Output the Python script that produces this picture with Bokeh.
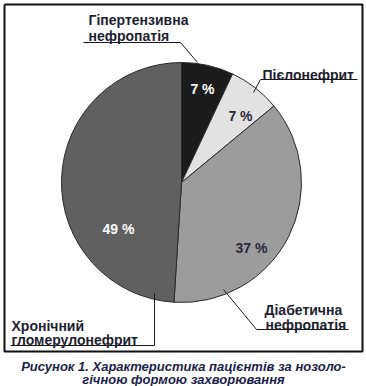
import numpy as np
from bokeh.plotting import figure
from bokeh.models import ColumnDataSource
from bokeh.core.properties import value
from bokeh.embed import file_html
from bokeh.resources import INLINE

# ---- data ----
categories = ["Гіпертензивна нефропатія", "Пієлонефрит", "Діабетична нефропатія", "Хронічний гломерулонефрит"]
values = [7, 7, 37, 49]
pct_labels = ["7 %", "7 %", "37 %", "49 %"]
slice_colors = ["#1c1c1c", "#e2e2e2", "#9c9c9c", "#606060"]
pct_colors = ["white", "#2a2a3a", "#2a2a3a", "white"]
caption_lines = ["Рисунок 1. Характеристика пацієнтів за нозоло-", "гічною формою захворювання"]

W, H = 366, 386
def Y(y):
    return H - y

p = figure(width=W, height=H, x_range=(0, W), y_range=(0, H),
           x_axis_type=None, y_axis_type=None,
           toolbar_location=None, output_backend="svg", min_border=0)
p.grid.visible = False
p.outline_line_color = None
p.background_fill_color = "white"
p.border_fill_color = "white"

# pie
vals = np.array(values, dtype=float)
frac = vals / vals.sum()
cum = np.concatenate([[0], np.cumsum(frac)])
start = np.pi / 2 - 2 * np.pi * cum[:-1]
end = np.pi / 2 - 2 * np.pi * cum[1:]
cx, cy, r = 181, Y(182), 120
src = ColumnDataSource(dict(start=start, end=end, color=slice_colors, cat=categories))
p.wedge(x=cx, y=cy, radius=r, start_angle="start", end_angle="end", direction="clock",
        fill_color="color", line_color="#2a2a2a", line_width=1, source=src)

# percent labels
pct_pos = [(202, 88), (240, 115), (251, 247), (118, 228)]
p.text(x=[q[0] for q in pct_pos], y=[Y(q[1]) for q in pct_pos], text=pct_labels,
       text_color=pct_colors, text_font=value("Liberation Sans"), text_font_style="bold",
       text_font_size="14px", text_align="center", text_baseline="middle")

# category labels
label_color = "#1e1e32"
lab_lines = [
    ("Гіпертензивна", 88, 19), ("нефропатія", 88, 35),
    ("Пієлонефрит", 262, 74),
    ("Діабетична", 264, 309), ("нефропатія", 265, 324),
    ("Хронічний", 11, 325), ("гломерулонефрит", 11, 339),
]
p.text(x=[l[1] for l in lab_lines], y=[Y(l[2]) for l in lab_lines], text=[l[0] for l in lab_lines],
       text_color=label_color, text_font=value("Liberation Sans"), text_font_style="bold",
       text_font_size="14px", text_align="left", text_baseline="alphabetic")

# leader lines
leaders = [
    [(83, 42), (180, 42), (197, 62)],
    [(357, 79), (260, 79), (253, 92)],
    [(348, 329), (256, 329), (223, 289)],
    [(10, 345), (154, 345), (154, 293)],
]
p.multi_line(xs=[[pt[0] for pt in L] for L in leaders], ys=[[Y(pt[1]) for pt in L] for L in leaders],
             line_color="#1a1a1a", line_width=1)

# frame box
bx = [4, 362, 362, 4, 4]
by = [4, 4, 351, 351, 4]
p.line(x=bx, y=[Y(v) for v in by], line_color="#111111", line_width=2)

# caption
p.text(x=[183, 183], y=[Y(366), Y(379)], text=caption_lines, text_color="#1c1e4a",
       text_font=value("Liberation Sans"), text_font_style="bold italic", text_font_size="13px",
       text_align="center", text_baseline="alphabetic")

open("out.html", "w").write(file_html(p, INLINE))
